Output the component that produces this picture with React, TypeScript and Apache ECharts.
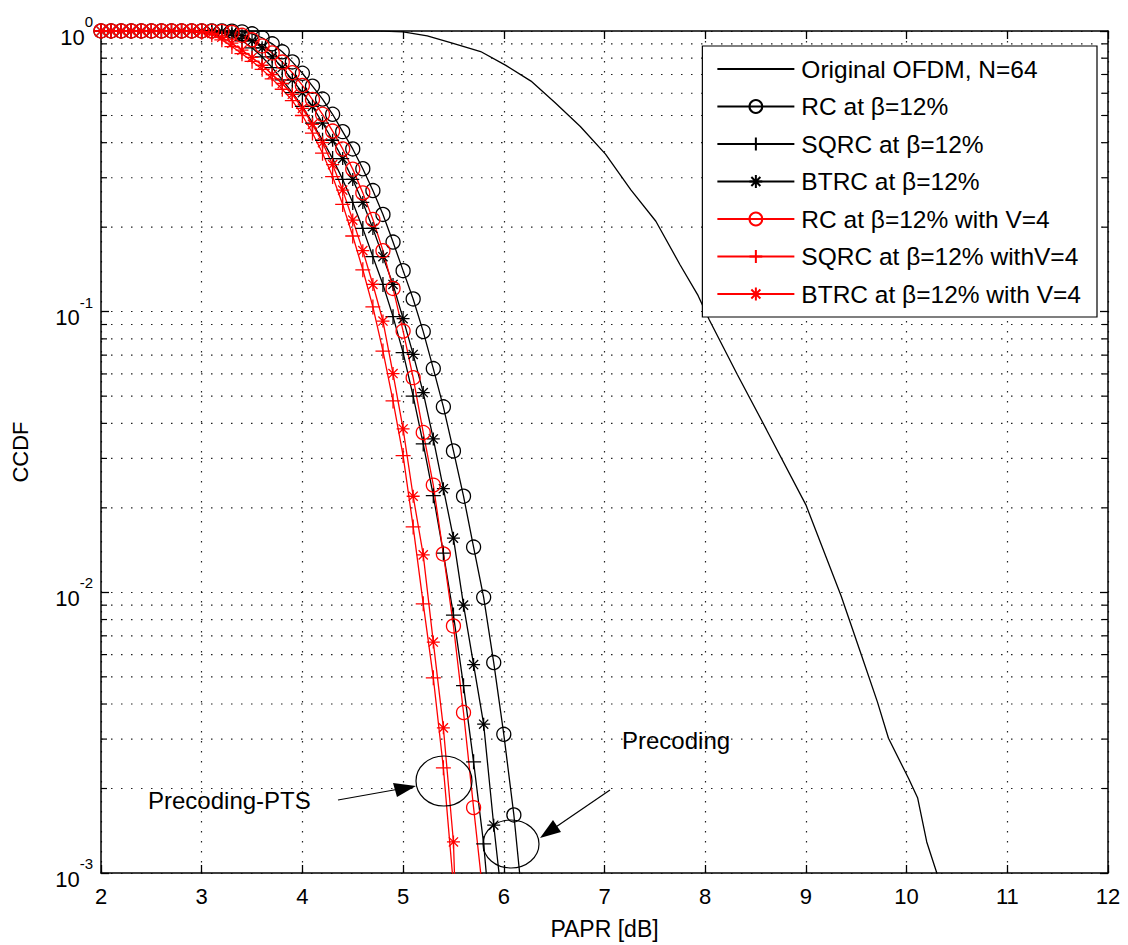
import React, { useEffect, useRef } from "react";
import * as echarts from "echarts";

// PAPR grid (dB) for the marked curves
const papr = [
  2.0, 2.1, 2.2, 2.3, 2.4, 2.5, 2.6, 2.7, 2.8, 2.9,
  3.0, 3.1, 3.2, 3.3, 3.4, 3.5, 3.6, 3.7, 3.8, 3.9,
  4.0, 4.1, 4.2, 4.3, 4.4, 4.5, 4.6, 4.7, 4.8, 4.9,
  5.0, 5.1, 5.2, 5.3, 5.4, 5.5, 5.6, 5.7, 5.8, 5.9,
  6.0, 6.1, 6.2,
];

const rcBlack = [
  1, 1, 1, 1, 1, 1, 1, 1, 1, 1,
  1, 1, 1, 0.999, 0.993, 0.977, 0.946, 0.9, 0.843, 0.776,
  0.707, 0.636, 0.572, 0.505, 0.438, 0.38, 0.323, 0.27, 0.222, 0.177,
  0.14, 0.111, 0.0849, 0.0627, 0.0458, 0.0319, 0.022, 0.0145, 0.0096, 0.00562,
  0.00312, 0.00161, 0.0007,
];

const sqrcBlack = [
  1, 1, 1, 1, 1, 1, 1, 1, 1, 1,
  1, 0.996, 0.985, 0.962, 0.923, 0.871, 0.809, 0.741, 0.67, 0.603,
  0.539, 0.47, 0.408, 0.351, 0.296, 0.245, 0.198, 0.157, 0.125, 0.096,
  0.0715, 0.05, 0.0338, 0.0221, 0.0138, 0.0083, 0.00465, 0.00249, 0.00127, 0.0005,
  null, null, null,
];

const btrcBlack = [
  1, 1, 1, 1, 1, 1, 1, 1, 1, 1,
  1, 1, 0.996, 0.985, 0.962, 0.923, 0.871, 0.809, 0.741, 0.67,
  0.603, 0.539, 0.47, 0.408, 0.351, 0.296, 0.245, 0.198, 0.157, 0.125,
  0.0944, 0.0704, 0.0515, 0.0352, 0.0234, 0.0156, 0.009, 0.00553, 0.00339, 0.00148,
  0.0007, null, null,
];

const rcRed = [
  1, 1, 1, 1, 1, 1, 1, 1, 1, 1,
  1, 0.999, 0.997, 0.988, 0.965, 0.93, 0.885, 0.835, 0.775, 0.71,
  0.64, 0.57, 0.505, 0.44, 0.38, 0.322, 0.265, 0.213, 0.165, 0.121,
  0.0853, 0.0582, 0.0371, 0.0241, 0.0137, 0.00759, 0.00373, 0.00171, 0.0008, null,
  null, null, null,
];

const sqrcRed = [
  1, 1, 1, 1, 1, 1, 1, 1, 1, 1,
  0.99, 0.97, 0.93, 0.88, 0.83, 0.78, 0.73, 0.675, 0.62, 0.565,
  0.5, 0.433, 0.367, 0.303, 0.241, 0.186, 0.141, 0.104, 0.0724, 0.0481,
  0.0307, 0.0171, 0.0091, 0.00496, 0.00237, 0.0009, null, null, null, null,
  null, null, null,
];

const btrcRed = [
  1, 1, 1, 1, 1, 1, 1, 1, 1, 1,
  0.995, 0.98, 0.95, 0.905, 0.855, 0.805, 0.755, 0.7, 0.65, 0.595,
  0.53, 0.465, 0.4, 0.334, 0.271, 0.212, 0.165, 0.125, 0.0926, 0.0602,
  0.0382, 0.022, 0.0136, 0.00665, 0.00329, 0.00129, 0.0001, null, null, null,
  null, null, null,
];

// Original OFDM curve (no markers)
const origX = [
  2, 3, 4, 4.5, 4.8, 5.0, 5.24, 5.48, 5.77, 6.02, 6.27, 6.51, 6.76, 7.01, 7.26, 7.51,
  7.75, 7.93, 8.04, 8.32, 8.61, 9.0, 9.35, 9.54, 9.71, 9.82, 10.02, 10.11, 10.2, 10.3, 10.45,
];
const origY = [
  1, 1, 1, 1, 0.999, 0.993, 0.96, 0.907, 0.845, 0.754, 0.663, 0.555, 0.457, 0.364, 0.272, 0.21,
  0.147, 0.114, 0.0936, 0.0596, 0.0379, 0.0205, 0.0097, 0.00614, 0.00407, 0.00302, 0.00217, 0.00185, 0.00129, 0.001, 0.0004,
];

const seriesNames = [
  "Original OFDM, N=64",
  "RC at β=12%",
  "SQRC at β=12%",
  "BTRC at β=12%",
  "RC at β=12% with V=4",
  "SQRC at β=12% withV=4",
  "BTRC at β=12% with V=4",
];

const xMin = 2;
const xMax = 12;
const yMin = 0.001;
const yMax = 1;
const decades = [0.001, 0.01, 0.1];
const minorMult = [2, 3, 4, 5, 6, 7, 8, 9];

const FONT = "'Liberation Sans', Arial, Helvetica, sans-serif";
const BLACK = "#000000";
const RED = "#ff0000";
const CLEAR = "rgba(0,0,0,0)";

const PLUS = "path://M6,0L6,12M0,6L12,6";
const STAR = "path://M6,0L6,12M0,6L12,6M1.76,1.76L10.24,10.24M1.76,10.24L10.24,1.76";

const pairs = (ys: (number | null)[]) => papr.map((x, i) => [x, ys[i]]);

function markedSeries(name: string, ys: (number | null)[], color: string, symbol: string, size: number) {
  return {
    name,
    type: "line",
    data: pairs(ys),
    symbol,
    symbolSize: size,
    showSymbol: true,
    connectNulls: false,
    clip: true,
    lineStyle: { color, width: 1.3 },
    itemStyle: { color: CLEAR, borderColor: color, borderWidth: 1.3 },
    emphasis: { disabled: true },
    z: 3,
  };
}

const dotted = { color: "#222", width: 1.2, type: [1.5, 8.5] as number[] };

export default function App() {
  const ref = useRef<HTMLDivElement>(null);

  useEffect(() => {
    const chart = echarts.init(ref.current!, null, { renderer: "svg" });
    const minorVals: number[] = [];
    decades.forEach((d) => minorMult.forEach((m) => minorVals.push(+(d * m).toPrecision(3))));

    const legendData = seriesNames.map((n, i) =>
      i === 0 ? { name: n, itemStyle: { color: CLEAR, borderColor: CLEAR, borderWidth: 0, opacity: 0 } } : { name: n }
    );

    const option: any = {
      animation: false,
      backgroundColor: "#ffffff",
      textStyle: { fontFamily: FONT, color: BLACK },
      grid: { left: 101, right: 20, top: 31, bottom: 70, containLabel: false },
      xAxis: [
        {
          type: "value",
          min: xMin,
          max: xMax,
          interval: 1,
          name: "PAPR [dB]",
          nameLocation: "middle",
          nameGap: 44,
          nameTextStyle: { fontSize: 23, color: BLACK, fontFamily: FONT },
          axisLine: { show: true, lineStyle: { color: BLACK, width: 1.5 } },
          axisTick: { show: true, inside: true, length: 8, lineStyle: { color: BLACK, width: 1.3 } },
          axisLabel: { fontSize: 22, color: BLACK, margin: 12, fontFamily: FONT },
          splitLine: { show: true, lineStyle: dotted },
        },
        {
          type: "value",
          position: "top",
          min: xMin,
          max: xMax,
          interval: 1,
          axisLine: { show: true, lineStyle: { color: BLACK, width: 1.5 } },
          axisTick: { show: true, inside: true, length: 8, lineStyle: { color: BLACK, width: 1.3 } },
          axisLabel: { show: false },
          splitLine: { show: false },
        },
      ],
      yAxis: [
        {
          type: "log",
          logBase: 10,
          min: yMin,
          max: yMax,
          splitNumber: 3,
          name: "CCDF",
          nameLocation: "middle",
          nameGap: 70,
          nameRotate: 90,
          nameTextStyle: { fontSize: 22, color: BLACK, fontFamily: FONT },
          axisLine: { show: true, lineStyle: { color: BLACK, width: 1.5 } },
          axisTick: { show: true, inside: true, length: 8, lineStyle: { color: BLACK, width: 1.3 } },
          axisLabel: {
            margin: 8,
            formatter: (v: number) => `{b|10}{e|${Math.round(Math.log10(v))}}`,
            rich: {
              b: { fontSize: 22, color: BLACK, fontFamily: FONT, verticalAlign: "bottom", lineHeight: 34 },
              e: { fontSize: 15, color: BLACK, fontFamily: FONT, verticalAlign: "top", lineHeight: 34 },
            },
          },
          splitLine: { show: true, lineStyle: dotted },
        },
        {
          type: "log",
          logBase: 10,
          min: yMin,
          max: yMax,
          splitNumber: 3,
          position: "right",
          axisLine: { show: true, lineStyle: { color: BLACK, width: 1.5 } },
          axisTick: { show: true, inside: true, length: 8, lineStyle: { color: BLACK, width: 1.3 } },
          axisLabel: { show: false },
          splitLine: { show: false },
        },
      ],
      legend: {
        data: legendData,
        orient: "vertical",
        right: 31,
        top: 46,
        backgroundColor: "#ffffff",
        borderColor: BLACK,
        borderWidth: 1.2,
        padding: [10, 16, 10, 14],
        itemWidth: 77,
        itemHeight: 16,
        itemGap: 11.5,
        selectedMode: false,
        textStyle: { fontSize: 24.5, color: BLACK, fontFamily: FONT, lineHeight: 26, padding: [0, 0, 0, 2] },
      },
      series: [
        {
          type: "custom",
          silent: true,
          clip: false,
          z: 1,
          data: minorVals.map((v) => [xMin, v]),
          renderItem: (_p: any, api: any) => {
            const v = api.value(1);
            const a = api.coord([xMin, v]);
            const b = api.coord([xMax, v]);
            return {
              type: "group",
              children: [
                { type: "line", shape: { x1: a[0], y1: a[1], x2: b[0], y2: b[1] }, style: { stroke: "#222", lineWidth: 1.2, lineDash: [1.5, 8.5] } },
                { type: "line", shape: { x1: a[0], y1: a[1], x2: a[0] + 6, y2: a[1] }, style: { stroke: BLACK, lineWidth: 1.2 } },
                { type: "line", shape: { x1: b[0] - 6, y1: b[1], x2: b[0], y2: b[1] }, style: { stroke: BLACK, lineWidth: 1.2 } },
              ],
            };
          },
        },
        {
          name: seriesNames[0],
          type: "line",
          data: origX.map((x, i) => [x, origY[i]]),
          symbol: "none",
          clip: true,
          lineStyle: { color: BLACK, width: 1.3 },
          itemStyle: { color: BLACK },
          emphasis: { disabled: true },
          z: 3,
        },
        markedSeries(seriesNames[1], rcBlack, BLACK, "circle", 14),
        markedSeries(seriesNames[2], sqrcBlack, BLACK, PLUS, 15),
        markedSeries(seriesNames[3], btrcBlack, BLACK, STAR, 13),
        markedSeries(seriesNames[4], rcRed, RED, "circle", 14),
        markedSeries(seriesNames[5], sqrcRed, RED, PLUS, 15),
        markedSeries(seriesNames[6], btrcRed, RED, STAR, 13),
      ],
      graphic: [
        { type: "ellipse", shape: { cx: 444, cy: 781, rx: 28, ry: 25 }, style: { fill: "none", stroke: BLACK, lineWidth: 1.2 }, z: 10 },
        { type: "ellipse", shape: { cx: 511, cy: 844, rx: 28, ry: 24 }, style: { fill: "none", stroke: BLACK, lineWidth: 1.2 }, z: 10 },
        { type: "line", shape: { x1: 338, y1: 800, x2: 405, y2: 788 }, style: { stroke: BLACK, lineWidth: 1.2 }, z: 10 },
        { type: "polygon", shape: { points: [[416, 786], [393, 783], [397, 797]] }, style: { fill: BLACK }, z: 10 },
        { type: "line", shape: { x1: 610, y1: 790, x2: 550, y2: 831 }, style: { stroke: BLACK, lineWidth: 1.2 }, z: 10 },
        { type: "polygon", shape: { points: [[540, 838], [553, 820], [561, 832]] }, style: { fill: BLACK }, z: 10 },
        { type: "text", x: 148, y: 800, style: { text: "Precoding-PTS", fontSize: 24, fontFamily: FONT, fill: BLACK, textVerticalAlign: "middle" }, z: 10 },
        { type: "text", x: 622, y: 740, style: { text: "Precoding", fontSize: 24, fontFamily: FONT, fill: BLACK, textVerticalAlign: "middle" }, z: 10 },
      ],
    };
    chart.setOption(option);
    return () => chart.dispose();
  }, []);

  return <div ref={ref} style={{ position: "fixed", left: 0, top: 0, width: 1128, height: 945, background: "#fff" }} />;
}
